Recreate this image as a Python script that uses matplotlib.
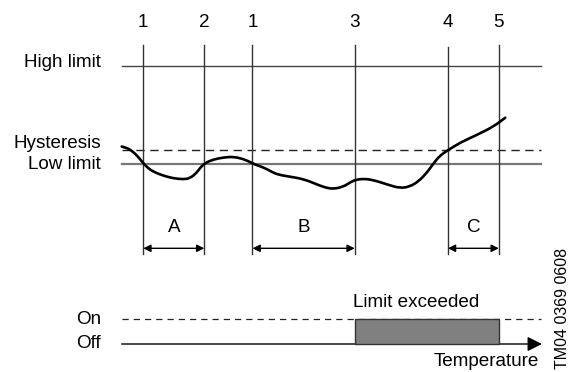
import matplotlib
matplotlib.use("Agg")
import matplotlib.pyplot as plt
from matplotlib.patches import Rectangle, PathPatch
from matplotlib.path import Path

plt.rcParams['font.family'] = ['Liberation Sans', 'DejaVu Sans']

# ---- data (diagram units: x = time/temperature axis, y = screen-like, inverted) ----
curve_x = [121.7, 126.7, 130, 136.7, 143.3, 148, 153.3, 163.3, 173.3, 183.3, 190, 196.7,
           200, 205, 213.3, 223.3, 233.3, 243.3, 250, 255, 260, 266.7, 272, 278.3, 290,
           303.3, 316.7, 325, 333.3, 343.3, 350, 355, 363.3, 373.3, 386.7, 400, 410,
           418.3, 426.7, 433, 440, 448.3, 460, 476.7, 493.3, 505.3]
curve_y = [146.5, 148, 149.5, 155, 163.3, 168, 171.7, 175.7, 178.3, 179.3, 178.3, 172.7,
           168, 163, 159.5, 157.5, 156.7, 159, 162, 164.5, 166.2, 169, 172, 174.7, 176.7,
           179, 184.3, 187.5, 189, 186.7, 182.5, 180, 178.7, 180, 184.3, 188.3, 186.5,
           181.5, 173, 164, 155.5, 150, 142.7, 135, 126.7, 117.7]

event_x = [143.3, 204.3, 252.5, 354.7, 447.9, 498.8]
event_labels = ['1', '2', '1', '3', '4', '5']

level_names = ['High limit', 'Hysteresis', 'Low limit']
level_y = [65.7, 150.2, 163.5]

spans = [('A', 0, 1), ('B', 2, 3), ('C', 4, 5)]

on_y, off_y = 319, 344
exceed_start, exceed_end = 354.7, 498.8

# ---- figure ----
fig = plt.figure(figsize=(5.69, 3.72), dpi=100)
ax = fig.add_axes([0, 0, 1, 1])
ax.set_xlim(0, 569)
ax.set_ylim(372, 0)
ax.axis('off')

fs = 13.6
x0, x1 = 121.7, 541

# horizontal limit lines
ax.plot([x0, x1], [level_y[0]] * 2, color='#444444', lw=1.0)
ax.plot([x0, x1], [level_y[1]] * 2, color='#222222', lw=1.0, dashes=(6, 4))
ax.plot([x0, x1], [level_y[2]] * 2, color='#777777', lw=1.6)

# level labels
ax.text(101, 62.3, level_names[0], ha='right', va='center', fontsize=fs)
ax.text(101, 143.3, level_names[1], ha='right', va='center', fontsize=fs)
ax.text(101, 164.5, level_names[2], ha='right', va='center', fontsize=fs)

# event vertical lines
for i, (xv, lab) in enumerate(zip(event_x, event_labels)):
    top = 47 if i == 4 else 44.5
    ax.plot([xv, xv], [top, 253.5], color='#333333', lw=1.0)
    ax.text(xv, 22.5, lab, ha='center', va='center', fontsize=fs)

# temperature curve, drawn smooth: quadratic segments through midpoints
pts = list(zip(curve_x, curve_y))
verts = [pts[0]]
codes = [Path.MOVETO]
for k in range(1, len(pts) - 1):
    mid = ((pts[k][0] + pts[k + 1][0]) / 2, (pts[k][1] + pts[k + 1][1]) / 2)
    verts += [pts[k], mid]
    codes += [Path.CURVE3, Path.CURVE3]
verts.append(pts[-1])
codes.append(Path.LINETO)
ax.add_patch(PathPatch(Path(verts, codes), facecolor='none', edgecolor='black',
                       lw=1.9, capstyle='round', joinstyle='round', zorder=4))

# dimension arrows
for lab, i, j in spans:
    a, b = event_x[i], event_x[j]
    ax.annotate('', xy=(a, 248.3), xytext=(b, 248.3),
                arrowprops=dict(arrowstyle='<|-|>', color='black', lw=1.0,
                                shrinkA=0, shrinkB=0, mutation_scale=11))
    ax.text((a + b) / 2, 227, lab, ha='center', va='center', fontsize=fs)

# on/off section
ax.plot([x0, 541], [on_y, on_y], color='#222222', lw=0.9, dashes=(5, 4))
ax.annotate('', xy=(542, off_y), xytext=(x0, off_y),
            arrowprops=dict(arrowstyle='-|>', color='black', lw=1.0,
                            shrinkA=0, shrinkB=0, mutation_scale=22))
ax.add_patch(Rectangle((exceed_start, on_y), exceed_end - exceed_start, off_y - on_y,
                       facecolor='#808080', edgecolor='#333333', lw=1.0, zorder=3))
ax.text(101, on_y, 'On', ha='right', va='center', fontsize=fs)
ax.text(101, off_y, 'Off', ha='right', va='center', fontsize=fs)
ax.text(353.5, 302.5, 'Limit exceeded', ha='left', va='center', fontsize=fs)
ax.text(539, 361, 'Temperature', ha='right', va='center', fontsize=fs)
ax.text(562.5, 308, 'TM04 0369 0608', rotation=90, ha='center', va='center',
        fontsize=11.5)

fig.savefig('out.png', dpi=100)
